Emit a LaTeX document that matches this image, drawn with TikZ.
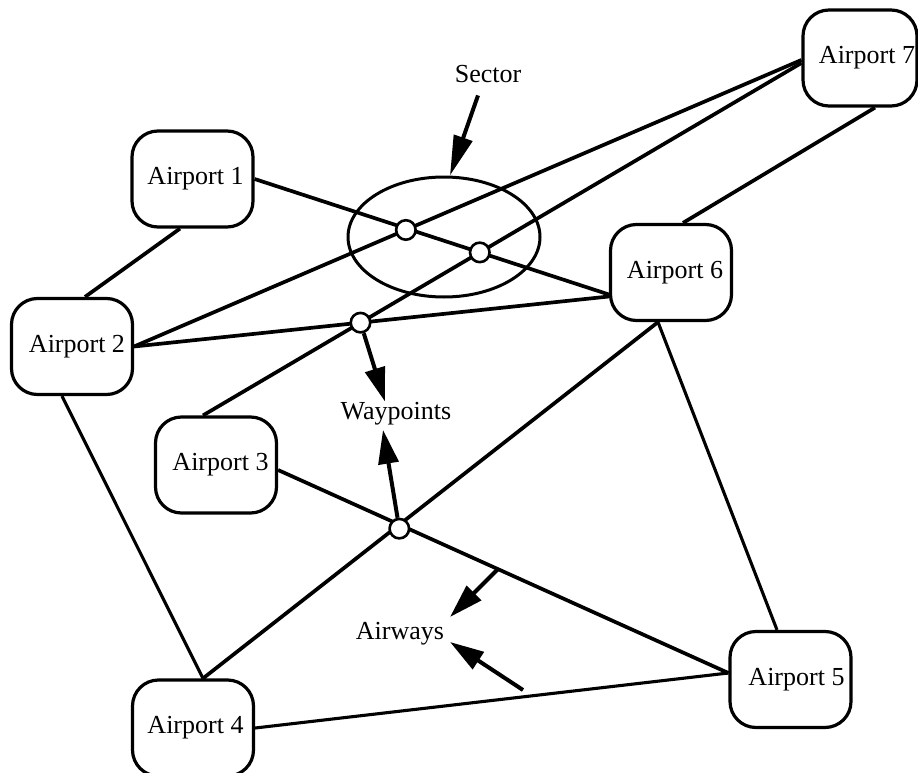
\documentclass[tikz,border=0pt]{standalone}
\usepackage{fontspec}
\setmainfont{Liberation Serif}
\usetikzlibrary{arrows.meta,shapes.geometric,intersections,calc}
\begin{document}
\begin{tikzpicture}[x=1pt,y=-1pt,
  apt/.style={draw, line width=3.2pt, rounded corners=26pt, minimum width=121pt, minimum height=96pt, inner sep=0pt, font=\fontsize{26}{30}\selectfont},
  route/.style={line width=3.7pt},
  thinroute/.style={line width=3.1pt},
  wp/.style={circle, draw, fill=white, line width=2.6pt, minimum size=19.5pt, inner sep=0pt},
  lbl/.style={inner sep=0pt, font=\fontsize{26}{30}\selectfont},
  arr/.style={line width=4pt, -{Triangle[length=34pt,width=20pt]}},
]
\useasboundingbox (0,0) rectangle (918,773);

\node[apt] (a1) at (192.5,179) {\hspace*{6pt}Airport 1};
\node[apt] (a2) at (72,346.5) {\hspace*{10pt}Airport 2};
\node[apt] (a3) at (216,465) {\hspace*{9pt}Airport 3};
\node[apt] (a4) at (193,728) {\hspace*{5pt}Airport 4};
\node[apt] (a5) at (790.5,679.5) {\hspace*{12pt}Airport 5};
\node[apt] (a6) at (671,272.5) {\hspace*{8pt}Airport 6};
\node[apt, minimum width=114pt] (a7) at (860,58) {\hspace*{14pt}Airport 7};

\node[ellipse, draw, line width=3pt, minimum width=192pt, minimum height=120pt, inner sep=0pt] (sector) at (444,237) {};

\draw[route, name path=r12] ([xshift=-12.5pt]a1.south) -- ([xshift=13pt]a2.north);
\draw[route, name path=r16] (a1.east) -- ([yshift=-22pt]a6.west);
\draw[route, name path=r27] (a2.east) -- ([yshift=-2pt]a7.west);
\draw[route, name path=r26] (a2.east) -- ([yshift=-24pt]a6.west);
\draw[route, name path=r73] ([yshift=-5pt]a7.west) -- ([xshift=-13pt]a3.north);
\draw[route] ([xshift=15pt]a7.south) -- ([xshift=12pt]a6.north);
\draw[thinroute] ([xshift=-10pt]a2.south) -- ([xshift=10pt]a4.north);
\draw[route, name path=r46] ([xshift=10pt]a4.north) -- ([xshift=-13pt]a6.south);
\draw[thinroute] ([xshift=-13pt]a6.south) -- ([xshift=-13.5pt]a5.north);
\draw[route, name path=r35] ([yshift=-5pt]a3.east) -- coordinate[pos=0.488] (aw1) ([yshift=6.5pt]a5.west);
\draw[thinroute] (a4.east) -- ([yshift=6.5pt]a5.west);

\path[name intersections={of=r16 and r27, by=p1}];
\path[name intersections={of=r16 and r73, by=p2}];
\path[name intersections={of=r26 and r73, by=p3}];
\path[name intersections={of=r35 and r46, by=p4}];
\node[wp] (w1) at ([xshift=-2pt,yshift=-1pt]p1) {};
\node[wp] (w2) at (p2) {};
\node[wp] (w3) at (p3) {};
\node[wp] (w4) at ([yshift=-4pt]p4) {};

\node[lbl, anchor=base] (sl) at (488,83) {Sector};
\node[lbl, anchor=base] (wl) at (396,419) {Waypoints};
\node[lbl, anchor=base] (al) at (400,639) {Airways};

\draw[arr, -{Triangle[length=40pt,width=19pt]}] ([xshift=-10pt,yshift=-12pt]sl.south) -- ([xshift=6pt]sector.north);
\draw[arr] (w3) -- ([xshift=-11pt]wl.north);
\draw[arr] (w4) -- ([xshift=-13pt,yshift=-5pt]wl.south);
\draw[arr] (aw1) -- ($(al.base)+(50,-22)$);
\coordinate (aw2) at (523,690);
\draw[arr] (aw2) -- ($(al.base)+(50,3)$);
\end{tikzpicture}
\end{document}
